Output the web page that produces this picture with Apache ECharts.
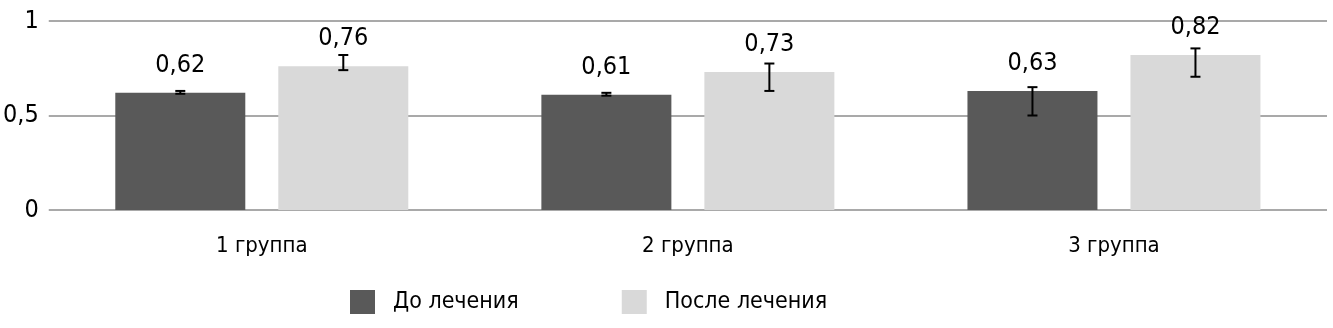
<!DOCTYPE html>
<html><head><meta charset="utf-8">
<script src="https://cdn.jsdelivr.net/npm/echarts@6/dist/echarts.min.js"></script>
<style>html,body{margin:0;padding:0;background:#fff}#c{width:1333px;height:328px}</style>
</head><body><div id="c"></div>
<script>
const categories = ['1 группа', '2 группа', '3 группа'];
const seriesNames = ['До лечения', 'После лечения'];
const before = [0.62, 0.61, 0.63];
const after = [0.76, 0.73, 0.82];
const beforeLow = [0.615, 0.605, 0.50];
const beforeHigh = [0.63, 0.62, 0.65];
const afterLow = [0.74, 0.63, 0.705];
const afterHigh = [0.82, 0.775, 0.855];
const yTicks = [0, 0.5, 1];

const FONT = "'Liberation Sans Narrow', 'DejaVu Sans Condensed', 'Roboto', sans-serif";
const BAR_W = 130, GAP = 33;
const OFF = (BAR_W + GAP) / 2;
const fmt = v => String(v).replace('.', ',');

function errSeries(low, high, dir) {
  return {
    type: 'custom', z: 10, silent: true,
    data: categories.map((c, i) => [i, low[i], high[i]]),
    encode: { x: 0, y: [1, 2] },
    renderItem: (params, api) => {
      const i = api.value(0);
      const p1 = api.coord([i, api.value(1)]);
      const p2 = api.coord([i, api.value(2)]);
      const x = p1[0] + dir * OFF;
      const cap = 5;
      const st = { stroke: '#000', lineWidth: 2 };
      return { type: 'group', children: [
        { type: 'line', shape: { x1: x, y1: p1[1], x2: x, y2: p2[1] }, style: st },
        { type: 'line', shape: { x1: x - cap, y1: p1[1], x2: x + cap, y2: p1[1] }, style: st },
        { type: 'line', shape: { x1: x - cap, y1: p2[1], x2: x + cap, y2: p2[1] }, style: st }
      ]};
    }
  };
}

const chart = echarts.init(document.getElementById('c'));
chart.setOption({
  animation: false,
  textStyle: { fontFamily: FONT },
  grid: { left: 48, right: 6, top: 21, bottom: 118 },
  legend: {
    left: 345, top: 285, itemWidth: 25, itemHeight: 24, itemGap: 103,
    icon: 'rect',
    textStyle: { fontFamily: FONT, fontSize: 23, color: '#000', padding: [0, 0, 0, 13] },
    data: seriesNames
  },
  xAxis: {
    type: 'category', data: categories,
    axisLine: { show: false }, axisTick: { show: false },
    axisLabel: { fontFamily: FONT, fontSize: 22, color: '#000', margin: 25 }
  },
  yAxis: {
    type: 'value', min: 0, max: 1, interval: 0.5,
    axisLine: { show: false }, axisTick: { show: false },
    splitLine: { lineStyle: { color: '#a9a9a9', width: 2 } },
    axisLabel: { fontFamily: FONT, fontSize: 25, color: '#000', margin: 10,
      formatter: v => yTicks.includes(v) ? fmt(v) : '' }
  },
  series: [
    { name: seriesNames[0], type: 'bar', data: before, barWidth: BAR_W, barGap: (GAP / BAR_W * 100) + '%',
      itemStyle: { color: '#595959' },
      label: { show: true, position: 'top', distance: 15, fontFamily: FONT, fontSize: 25, color: '#000', formatter: p => fmt(p.value) } },
    { name: seriesNames[1], type: 'bar', data: after, barWidth: BAR_W,
      itemStyle: { color: '#d9d9d9' },
      label: { show: true, position: 'top', distance: 15, fontFamily: FONT, fontSize: 25, color: '#000', formatter: p => fmt(p.value) } },
    errSeries(beforeLow, beforeHigh, -1),
    errSeries(afterLow, afterHigh, 1)
  ]
});
</script></body></html>
